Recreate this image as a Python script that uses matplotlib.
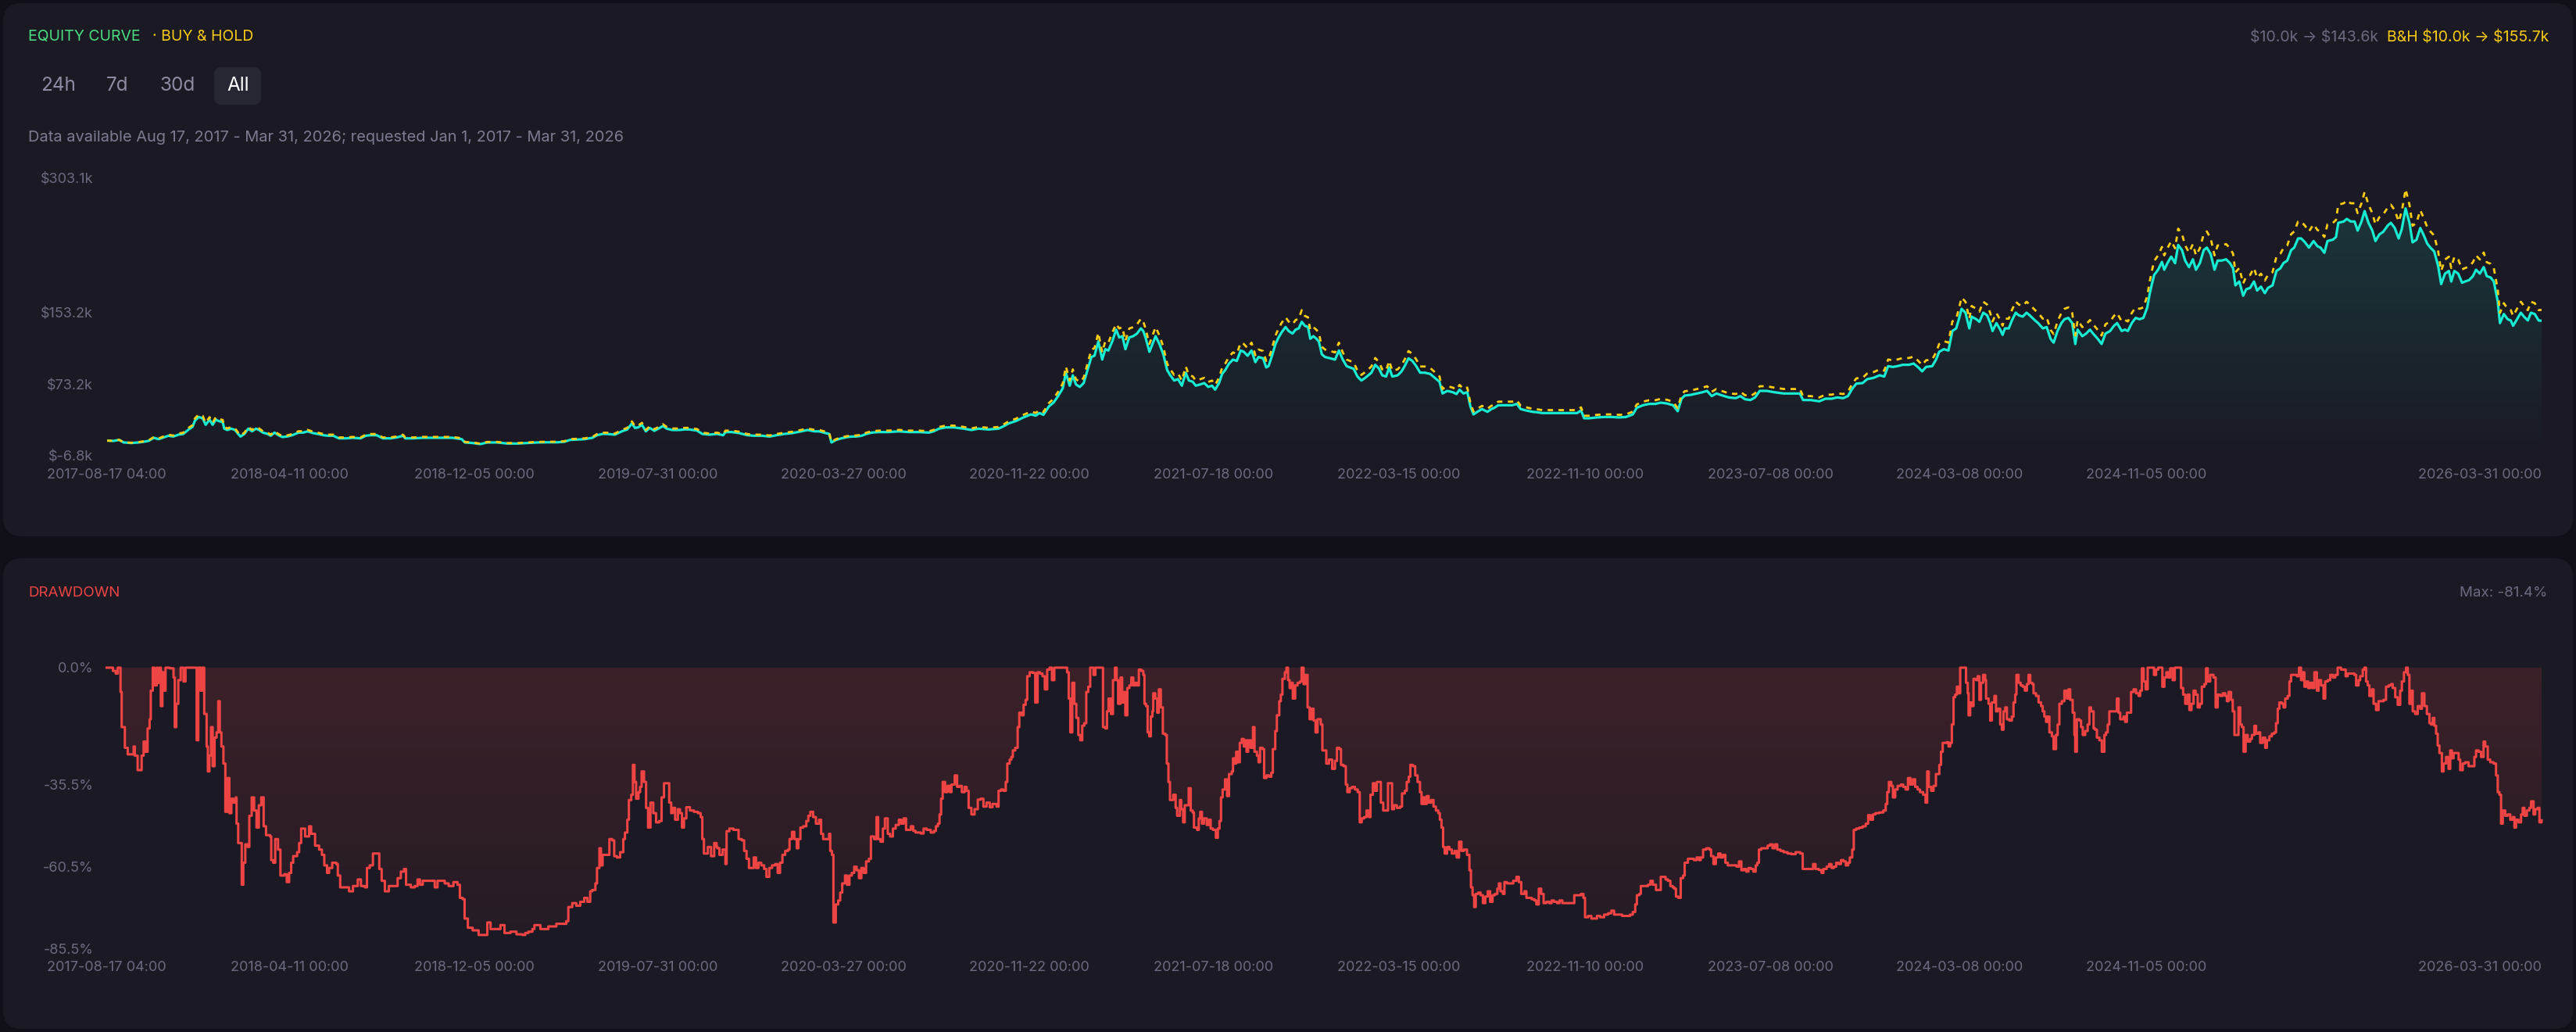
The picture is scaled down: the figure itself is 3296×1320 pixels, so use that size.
import datetime as dt
import numpy as np
import matplotlib
matplotlib.use("Agg")
import matplotlib.pyplot as plt
import matplotlib.dates as mdates
from matplotlib.patches import FancyBboxPatch
from matplotlib.path import Path

plt.rcParams['font.family'] = ['Inter', 'DejaVu Sans']
plt.rcParams['text.parse_math'] = False

# ---------------- data ----------------
START = "2017-08-17 04:00"
END = "2026-03-31 00:00"

# equity curve: days since START, strategy value ($k), buy & hold value ($k)
eq_day = [0, 9, 16, 22, 32, 41, 48, 54, 61, 67,
          74, 80, 86, 93, 99, 106, 111, 114, 119, 124,
          128, 133, 137, 141, 144, 150, 152, 156, 161, 166,
          170, 173, 178, 183, 188, 193, 197, 202, 208, 212,
          217, 222, 227, 233, 240, 248, 254, 260, 267, 273,
          280, 286, 293, 300, 309, 318, 328, 335, 341, 349,
          357, 367, 376, 383, 386, 396, 409, 422, 434, 447,
          459, 463, 473, 483, 492, 505, 518, 531, 544, 557,
          570, 583, 592, 599, 608, 618, 628, 634, 641, 647,
          657, 666, 673, 679, 683, 687, 692, 697, 702, 708,
          715, 719, 724, 731, 740, 747, 753, 763, 770, 779,
          789, 797, 800, 808, 818, 828, 837, 847, 857, 866,
          876, 886, 898, 906, 915, 921, 927, 934, 937, 943,
          950, 956, 963, 969, 976, 982, 989, 998, 1011, 1024,
          1037, 1050, 1063, 1069, 1076, 1085, 1095, 1108, 1118, 1127,
          1140, 1153, 1160, 1166, 1176, 1185, 1195, 1201, 1206, 1211,
          1218, 1224, 1230, 1236, 1240, 1245, 1249, 1253, 1258, 1263,
          1269, 1273, 1277, 1282, 1287, 1291, 1295, 1300, 1305, 1309,
          1313, 1317, 1322, 1327, 1332, 1337, 1340, 1343, 1348, 1352,
          1356, 1361, 1366, 1371, 1375, 1380, 1385, 1390, 1395, 1399,
          1404, 1408, 1414, 1419, 1424, 1429, 1433, 1438, 1442, 1446,
          1451, 1456, 1461, 1466, 1470, 1475, 1480, 1485, 1489, 1495,
          1499, 1502, 1506, 1511, 1515, 1519, 1524, 1528, 1533, 1537,
          1541, 1545, 1549, 1553, 1556, 1560, 1564, 1567, 1571, 1575,
          1582, 1588, 1593, 1598, 1603, 1607, 1612, 1617, 1622, 1627,
          1631, 1635, 1640, 1645, 1649, 1654, 1658, 1662, 1669, 1674,
          1678, 1683, 1688, 1693, 1698, 1704, 1711, 1717, 1723, 1727,
          1733, 1740, 1745, 1749, 1754, 1759, 1763, 1767, 1772, 1778,
          1785, 1790, 1794, 1799, 1804, 1810, 1817, 1823, 1828, 1835,
          1843, 1849, 1856, 1863, 1872, 1881, 1891, 1901, 1906, 1910,
          1917, 1926, 1936, 1946, 1955, 1964, 1973, 1978, 1986, 1994,
          2002, 2009, 2017, 2025, 2031, 2036, 2040, 2048, 2056, 2063,
          2069, 2075, 2081, 2089, 2097, 2106, 2112, 2118, 2125, 2131,
          2137, 2146, 2156, 2168, 2179, 2189, 2193, 2203, 2214, 2222,
          2230, 2237, 2245, 2251, 2257, 2262, 2270, 2276, 2284, 2292,
          2298, 2303, 2309, 2315, 2322, 2330, 2336, 2342, 2347, 2352,
          2360, 2365, 2369, 2375, 2381, 2386, 2391, 2394, 2398, 2403,
          2408, 2411, 2417, 2421, 2426, 2431, 2435, 2438, 2443, 2448,
          2451, 2454, 2459, 2463, 2468, 2472, 2477, 2482, 2486, 2493,
          2497, 2503, 2508, 2513, 2517, 2522, 2527, 2531, 2536, 2541,
          2545, 2548, 2554, 2559, 2564, 2568, 2574, 2579, 2584, 2590,
          2595, 2599, 2605, 2609, 2613, 2618, 2623, 2628, 2633, 2638,
          2641, 2644, 2647, 2652, 2657, 2660, 2664, 2669, 2674, 2678,
          2683, 2687, 2692, 2697, 2701, 2706, 2711, 2715, 2720, 2725,
          2729, 2734, 2740, 2745, 2749, 2752, 2757, 2762, 2766, 2771,
          2776, 2780, 2785, 2790, 2794, 2800, 2805, 2810, 2814, 2819,
          2824, 2828, 2833, 2837, 2842, 2847, 2853, 2858, 2862, 2867,
          2871, 2878, 2882, 2885, 2892, 2896, 2901, 2906, 2910, 2915,
          2919, 2924, 2929, 2933, 2938, 2943, 2949, 2953, 2958, 2963,
          2967, 2972, 2977, 2981, 2986, 2991, 2995, 3000, 3004, 3009,
          3014, 3018, 3023, 3028, 3031, 3035, 3040, 3045, 3049, 3054,
          3059, 3063, 3068, 3073, 3077, 3082, 3086, 3091, 3094, 3099,
          3104, 3108, 3111, 3116, 3121, 3125, 3130, 3134, 3139, 3144, 3147.8]

eq_strategy = [10.0, 9.6, 10.8, 7.9, 7.3, 7.9, 8.7, 9.6, 13.1, 11.6,
               13.7, 15.4, 14.5, 16.6, 17.4, 22.4, 25.3, 32.0, 36.3, 34.9,
               27.6, 33.4, 27.6, 33.4, 32.0, 30.5, 23.3, 21.8, 23.3, 21.8,
               17.4, 14.5, 17.4, 23.3, 20.3, 23.3, 21.8, 18.9, 17.4, 15.4,
               18.9, 16.0, 14.0, 14.5, 16.0, 18.9, 18.9, 20.3, 18.3, 17.4,
               16.0, 15.4, 15.4, 12.5, 12.5, 13.1, 12.5, 15.4, 16.0, 16.0,
               12.5, 12.5, 13.7, 15.4, 12.5, 12.5, 13.1, 13.1, 13.1, 13.1,
               11.6, 7.9, 7.3, 6.1, 7.9, 7.9, 6.7, 6.7, 7.3, 7.9,
               8.1, 8.1, 8.7, 10.8, 11.1, 11.6, 13.1, 16.0, 17.4, 17.4,
               16.6, 20.3, 22.4, 29.1, 24.1, 24.7, 27.6, 20.3, 24.1, 20.9,
               24.1, 26.2, 23.3, 21.8, 21.8, 22.4, 22.4, 21.2, 17.4, 16.6,
               17.4, 16.0, 19.5, 19.5, 18.3, 16.0, 15.4, 15.4, 14.5, 16.0,
               17.4, 18.3, 20.3, 21.8, 20.3, 20.3, 18.9, 17.4, 7.9, 10.8,
               12.5, 13.7, 14.5, 14.5, 15.4, 17.4, 18.9, 19.5, 19.5, 20.3,
               19.5, 19.5, 18.9, 20.3, 23.3, 24.7, 24.7, 23.3, 21.8, 23.3,
               22.4, 23.3, 26.2, 29.1, 32.0, 35.8, 39.2, 37.8, 40.7, 38.7,
               48.0, 52.3, 59.6, 68.3, 85.7, 71.2, 82.8, 72.7, 69.8, 74.1,
               91.6, 103.2, 104.6, 120.6, 100.3, 111.9, 110.4, 120.6, 133.7, 125.0,
               126.4, 111.9, 125.0, 126.4, 129.3, 135.1, 132.2, 125.0, 109.0, 117.7,
               126.4, 117.7, 106.1, 88.6, 82.8, 77.0, 78.5, 71.2, 85.7, 77.0,
               75.6, 71.2, 72.7, 74.1, 69.8, 71.2, 66.8, 74.1, 84.3, 88.6,
               95.9, 100.3, 98.8, 110.4, 109.0, 104.6, 110.4, 97.4, 103.2, 101.7,
               91.6, 93.0, 103.2, 117.7, 125.0, 130.8, 136.6, 132.2, 129.3, 133.7,
               135.1, 142.4, 138.0, 136.6, 123.5, 126.4, 123.5, 120.6, 106.1, 103.2,
               101.7, 100.3, 110.4, 100.3, 93.0, 91.6, 90.1, 81.4, 77.0, 79.9,
               82.8, 85.7, 94.5, 90.1, 82.8, 81.4, 91.6, 81.4, 82.8, 87.2,
               93.0, 101.7, 98.8, 93.0, 85.7, 85.7, 84.3, 79.9, 75.6, 62.5,
               65.4, 64.0, 61.9, 66.8, 62.5, 64.0, 48.0, 39.2, 42.1, 45.1,
               42.1, 45.1, 46.5, 49.4, 49.4, 49.4, 49.4, 50.9, 45.1, 43.6,
               42.1, 41.6, 40.7, 40.7, 40.7, 40.7, 40.7, 40.7, 43.6, 34.9,
               34.9, 35.8, 36.3, 36.3, 35.8, 36.3, 39.2, 46.5, 49.4, 50.9,
               50.9, 52.3, 51.4, 49.4, 42.7, 56.7, 60.2, 61.0, 62.5, 63.9,
               65.4, 59.6, 62.5, 60.2, 58.1, 57.3, 59.6, 56.1, 55.2, 58.1,
               65.4, 65.4, 63.9, 62.5, 62.5, 62.5, 55.2, 55.2, 53.8, 56.7,
               56.7, 58.1, 57.3, 59.6, 68.3, 73.5, 74.1, 78.5, 79.9, 82.8,
               81.4, 93.0, 92.1, 93.0, 94.5, 94.5, 95.9, 91.6, 87.2, 92.1,
               93.0, 100.3, 109.0, 111.9, 110.4, 132.2, 135.1, 143.9, 156.9, 152.6,
               135.1, 148.2, 145.3, 142.4, 152.6, 149.7, 141.0, 132.2, 141.0, 133.7,
               127.9, 135.1, 135.1, 143.9, 152.6, 149.7, 148.2, 152.6, 149.7, 143.9,
               141.0, 135.1, 136.6, 123.5, 119.2, 132.2, 141.0, 145.3, 146.8, 141.0,
               117.7, 133.7, 126.4, 129.3, 133.7, 129.3, 123.5, 117.7, 129.3, 132.2,
               138.0, 141.0, 132.2, 133.7, 132.2, 141.0, 146.8, 145.3, 146.8, 158.4,
               172.9, 184.5, 194.7, 200.5, 209.2, 200.5, 207.8, 215.1, 207.8, 228.1,
               222.3, 210.7, 203.4, 212.1, 200.5, 207.8, 222.3, 225.2, 218.0, 200.5,
               210.7, 210.7, 212.1, 207.8, 202.0, 183.1, 187.4, 171.5, 178.7, 180.2,
               187.4, 177.3, 181.6, 174.4, 180.2, 183.1, 199.1, 202.0, 207.8, 210.7,
               222.3, 225.2, 235.4, 235.4, 231.0, 225.2, 232.5, 226.7, 225.2, 219.4,
               232.5, 234.0, 236.9, 252.8, 254.3, 257.2, 254.3, 254.3, 244.1, 254.3,
               265.9, 252.8, 244.1, 232.5, 239.8, 242.7, 249.9, 252.8, 247.0, 235.4,
               245.6, 268.8, 252.8, 231.0, 233.9, 247.0, 239.8, 229.6, 225.2, 220.9,
               204.9, 184.5, 196.2, 199.1, 187.4, 199.1, 196.2, 186.0, 187.4, 188.9,
               193.3, 200.5, 196.2, 203.4, 193.3, 191.8, 187.4, 165.7, 141.0, 151.1,
               145.3, 143.9, 138.0, 145.3, 152.6, 148.2, 143.9, 152.6, 151.1, 143.9, 143.6]

eq_bh = [10.0, 9.6, 10.9, 8.1, 7.6, 8.3, 9.2, 10.2, 14.0, 12.4,
         14.7, 16.5, 15.6, 17.9, 18.8, 24.2, 27.3, 34.6, 39.2, 37.7,
         29.8, 36.1, 29.8, 36.1, 34.6, 32.9, 25.2, 23.5, 25.2, 23.5,
         18.8, 15.7, 18.8, 25.2, 21.9, 25.2, 23.5, 20.4, 18.8, 16.6,
         20.4, 17.3, 15.1, 15.7, 17.3, 20.4, 20.4, 21.9, 19.8, 18.8,
         17.3, 16.6, 16.6, 13.5, 13.5, 14.1, 13.5, 16.6, 17.3, 17.3,
         13.5, 13.5, 14.8, 16.6, 13.5, 13.5, 14.1, 14.1, 14.1, 14.1,
         12.5, 8.5, 7.9, 6.6, 8.5, 8.5, 7.2, 7.2, 7.9, 8.5,
         8.7, 8.7, 9.4, 11.7, 12.0, 12.5, 14.1, 17.3, 18.8, 18.8,
         17.9, 21.9, 24.2, 31.4, 26.0, 26.7, 29.8, 21.9, 26.0, 22.6,
         26.0, 28.3, 25.2, 23.5, 23.5, 24.2, 24.2, 22.9, 18.8, 17.9,
         18.8, 17.3, 21.1, 21.1, 19.8, 17.3, 16.6, 16.6, 15.7, 17.3,
         18.8, 19.8, 21.9, 23.5, 21.9, 21.9, 20.4, 18.8, 8.5, 11.7,
         13.5, 14.8, 15.7, 15.7, 16.6, 18.8, 20.4, 21.1, 21.1, 21.9,
         21.1, 21.1, 20.4, 21.9, 25.2, 26.7, 26.7, 25.2, 23.5, 25.2,
         24.2, 25.2, 28.3, 31.4, 34.6, 38.7, 42.3, 40.8, 44.0, 41.8,
         51.8, 56.5, 64.4, 73.8, 92.6, 76.9, 89.4, 78.5, 75.4, 80.0,
         98.9, 111.5, 113.0, 130.2, 108.3, 120.9, 119.2, 130.2, 140.0, 135.0,
         136.5, 120.9, 135.0, 136.5, 139.6, 145.9, 142.8, 135.0, 117.7, 127.1,
         136.5, 127.1, 114.6, 95.7, 89.4, 83.2, 84.8, 76.9, 92.6, 83.2,
         81.6, 76.9, 78.5, 80.0, 75.4, 76.9, 72.1, 80.0, 91.0, 95.7,
         103.6, 108.3, 106.7, 119.2, 117.7, 113.0, 119.2, 105.2, 111.5, 109.8,
         98.9, 100.4, 111.5, 127.1, 135.0, 141.3, 147.5, 142.8, 139.6, 144.4,
         145.9, 155.5, 149.0, 147.5, 133.4, 136.5, 133.4, 130.2, 114.6, 111.5,
         109.8, 108.3, 119.2, 108.3, 100.4, 98.9, 97.3, 87.9, 83.2, 86.3,
         89.4, 92.6, 102.1, 97.3, 89.4, 87.9, 98.9, 87.9, 89.4, 94.2,
         100.4, 109.8, 106.7, 100.4, 92.6, 92.6, 91.0, 86.3, 81.6, 67.5,
         70.6, 69.1, 66.9, 72.1, 67.5, 69.1, 51.8, 42.3, 45.5, 48.7,
         45.5, 48.7, 50.2, 53.4, 53.4, 53.4, 53.4, 55.0, 48.7, 47.1,
         45.5, 44.9, 44.0, 44.0, 44.0, 44.0, 44.0, 44.0, 47.1, 37.7,
         37.7, 38.7, 39.2, 39.2, 38.7, 39.2, 42.3, 50.2, 53.4, 55.0,
         55.0, 56.5, 55.5, 53.4, 46.1, 61.2, 65.0, 65.9, 67.5, 69.0,
         70.6, 64.4, 67.5, 65.0, 62.7, 61.9, 64.4, 60.6, 59.6, 62.7,
         70.6, 70.6, 69.0, 67.5, 67.5, 67.5, 59.6, 59.6, 58.1, 61.2,
         61.2, 62.7, 61.9, 64.4, 73.8, 79.4, 80.0, 84.8, 86.3, 89.4,
         87.9, 100.4, 99.5, 100.4, 102.1, 102.1, 103.6, 98.9, 94.2, 99.5,
         100.4, 108.3, 117.7, 120.9, 119.2, 142.8, 145.9, 155.4, 169.5, 164.8,
         145.9, 160.1, 156.9, 153.8, 164.8, 161.7, 152.3, 142.8, 152.3, 144.4,
         138.1, 145.9, 145.9, 155.4, 164.8, 161.7, 160.1, 164.8, 161.7, 155.4,
         152.3, 145.9, 147.5, 133.4, 128.7, 142.8, 152.3, 156.9, 158.5, 152.3,
         127.1, 144.4, 136.5, 139.6, 144.4, 139.6, 133.4, 127.1, 139.6, 142.8,
         149.0, 152.3, 142.8, 144.4, 142.8, 152.3, 158.5, 156.9, 158.5, 171.1,
         186.7, 199.3, 210.3, 216.5, 225.9, 216.5, 224.4, 232.3, 224.4, 246.3,
         240.1, 227.6, 219.7, 229.1, 216.5, 224.4, 240.1, 243.2, 235.4, 216.5,
         227.6, 227.6, 229.1, 224.4, 218.2, 197.7, 202.4, 185.2, 193.0, 194.6,
         202.4, 191.5, 196.1, 188.4, 194.6, 197.7, 215.0, 218.2, 224.4, 227.6,
         240.1, 243.2, 254.2, 254.2, 249.5, 243.2, 251.1, 244.8, 243.2, 237.0,
         251.1, 252.7, 255.9, 273.0, 274.6, 277.8, 274.6, 274.6, 263.6, 274.6,
         287.2, 273.0, 263.6, 251.1, 259.0, 262.1, 269.9, 273.0, 266.8, 254.2,
         265.2, 290.3, 273.0, 249.5, 252.6, 266.8, 259.0, 248.0, 243.2, 238.6,
         221.3, 199.3, 211.9, 215.0, 202.4, 215.0, 211.9, 200.9, 202.4, 204.0,
         208.8, 216.5, 211.9, 219.7, 208.8, 207.1, 202.4, 179.0, 152.3, 163.2,
         156.9, 155.4, 149.0, 156.9, 164.8, 160.1, 155.4, 164.8, 163.2, 155.4, 155.7]

# drawdown (%): days since START and drawdown value, in four stretches
dd_day_a = [0, 6.5, 8.1, 11.7, 14.3, 17.9, 19.4, 23.5, 27.2, 34.9,
            36.4, 40.0, 43.6, 45.2, 47.8, 50.3, 52.9, 55.5, 57.0, 59.6,
            61.7, 64.8, 65.8, 68.4, 70.0, 72.0, 74.1, 76.1, 81.3, 86.4,
            88.0, 90.0, 92.6, 95.7, 99.3, 101.9, 114.8, 116.3, 118.4, 121.5,
            123.5, 126.1, 129.2, 130.8, 132.8, 134.9, 137.0, 139.5, 142.1, 144.2,
            146.2, 148.3, 150.9, 153.4, 156.0, 158.6, 161.2, 163.8, 166.9, 167.9,
            170.0, 173.0, 174.6, 176.6, 179.2, 182.3, 184.4, 187.5, 190.6, 193.7,
            196.7, 199.8, 202.9, 206.0, 211.2, 212.7, 215.3, 217.9, 221.5, 224.6,
            229.7, 232.8, 235.9, 238.5, 241.1, 246.2, 248.8, 251.4, 256.5, 261.7,
            264.3, 269.4, 274.6, 278.2, 281.3, 284.9, 287.5, 291.6, 296.8, 298.8,
            301.9, 308.1, 313.3, 318.4, 324.6, 328.7, 333.9, 336.5, 340.1, 344.2,
            349.3, 352.4, 355.5, 359.6, 364.8, 372.5, 376.1, 380.3, 384.4, 387.0,
            393.2, 398.3, 401.9, 405.0, 408.6, 421.5, 424.1, 427.7, 437.0, 442.1,
            448.3, 453.5, 456.6, 460.2, 462.7, 466.9, 473.1, 480.8, 488.5, 492.1,
            496.3, 509.1, 514.3, 522.0, 529.8, 537.5, 541.1, 545.2, 550.4, 553.0,
            560.7, 571.0, 581.3, 589.0, 594.2, 596.8, 601.9, 607.1, 612.2, 617.4,
            621.5, 625.1, 627.7, 631.8, 633.9, 637.0, 639.0, 641.1, 644.2, 647.3,
            649.9, 653.5, 656.1, 659.7, 663.8, 667.9, 670.0, 673.1, 675.1, 678.2,
            680.3, 682.3, 684.4, 687.5, 689.6, 691.6, 694.7, 697.3, 699.9, 703.0,
            706.6, 710.2, 714.3, 717.4, 720.5, 724.6, 727.2, 729.8, 731.8, 734.9,
            738.5, 741.1, 743.7, 746.3, 749.4, 754.0, 759.2, 764.3, 767.9, 770.0,
            772.1, 777.2, 781.3, 785.4, 788.5]
dd_pct_a = [0.0, 0.0, -1.0, -1.8, 0.0, -7.4, -18.1, -24.4, -26.4, -24.0,
            -26.8, -31.2, -31.2, -26.8, -22.5, -25.6, -18.5, -15.7, -7.0, 0.0,
            -5.4, 0.0, -4.6, 0.0, -11.7, -1.4, -7.0, 0.0, -0.2, -3.0,
            -18.1, -11.0, -3.8, 0.0, -4.2, 0.0, 0.0, -22.1, 0.0, -7.0,
            0.0, -14.1, -24.0, -31.6, -26.8, -18.1, -30.0, -21.3, -19.7, -10.2,
            -19.7, -24.0, -29.2, -43.9, -33.6, -44.3, -39.9, -41.1, -39.5, -47.5,
            -53.4, -53.4, -66.1, -59.4, -53.8, -54.6, -45.1, -39.5, -43.5, -48.7,
            -41.9, -39.5, -48.3, -51.0, -51.4, -58.6, -59.4, -52.2, -55.4, -63.3,
            -62.9, -65.3, -62.5, -59.4, -57.4, -56.2, -53.4, -49.0, -51.4, -48.3,
            -50.6, -54.2, -55.4, -57.0, -60.2, -62.5, -61.0, -59.4, -59.8, -63.3,
            -66.9, -66.9, -68.1, -66.5, -64.5, -66.5, -66.9, -61.0, -60.2, -56.6,
            -56.6, -61.3, -64.9, -68.1, -66.5, -66.5, -64.1, -62.1, -61.3, -66.1,
            -66.9, -66.5, -64.5, -66.1, -64.9, -64.9, -66.9, -64.9, -65.7, -66.5,
            -65.3, -66.1, -70.1, -70.5, -76.4, -79.2, -80.0, -81.4, -81.4, -77.6,
            -79.6, -78.4, -80.8, -80.4, -81.2, -81.4, -80.8, -80.4, -79.6, -78.4,
            -79.6, -78.8, -78.0, -78.0, -77.2, -72.9, -71.7, -72.5, -71.3, -70.1,
            -71.3, -68.1, -67.7, -65.7, -61.0, -55.0, -60.2, -57.0, -57.0, -57.0,
            -52.2, -52.6, -57.4, -57.8, -56.2, -52.2, -50.2, -46.3, -40.3, -38.7,
            -29.6, -34.8, -39.9, -37.9, -36.3, -31.6, -34.8, -42.7, -48.7, -41.1,
            -44.3, -47.1, -46.7, -39.5, -35.2, -35.2, -41.1, -44.3, -42.7, -46.3,
            -43.1, -44.3, -48.7, -45.9, -42.5, -43.5, -43.9, -44.3, -45.5, -52.2,
            -56.6, -54.6, -57.4, -53.4, -54.6]

dd_day_b = [789.5, 792.1, 796.2, 799.9, 801.4, 805.0, 810.2, 813.8, 816.9, 821.0,
            824.1, 827.2, 830.3, 833.4, 836.5, 839.5, 842.6, 846.2, 849.9, 852.9,
            856.6, 860.2, 864.3, 867.4, 870.5, 873.6, 877.2, 880.8, 882.8, 885.9,
            889.0, 892.1, 894.2, 896.8, 900.4, 904.5, 907.1, 909.7, 913.3, 916.9,
            921.0, 923.6, 926.2, 931.3, 933.9, 935.4, 937.5, 939.5, 942.6, 945.7,
            948.3, 950.9, 954.5, 957.1, 960.2, 963.3, 966.4, 969.5, 972.5, 975.6,
            978.7, 981.8, 985.4, 988.0, 992.1, 995.2, 997.3, 1000.4, 1003.5, 1006.1,
            1009.7, 1012.8, 1016.4, 1020.0, 1024.1, 1027.2, 1030.3, 1033.4, 1037.0, 1039.6,
            1042.7, 1045.7, 1052.4, 1056.1, 1060.2, 1065.3, 1069.5, 1072.0, 1074.6, 1076.7,
            1078.7, 1080.8, 1083.9, 1087.0, 1090.1, 1092.1, 1096.3, 1099.4, 1102.5, 1105.5,
            1109.2, 1111.7, 1114.3, 1117.9, 1122.0, 1126.2, 1129.8, 1133.4, 1137.5, 1141.6,
            1145.2, 1150.4, 1153.0, 1156.1, 1159.2, 1162.3, 1164.3, 1167.4, 1169.5, 1171.5,
            1174.6, 1177.7, 1179.8, 1182.9, 1185.4, 1188.0, 1190.1, 1193.2, 1197.3, 1200.4,
            1203.5, 1206.6, 1209.7, 1212.8, 1215.9, 1219.0, 1222.0, 1225.1, 1239.6, 1241.6,
            1243.7, 1245.8, 1248.3, 1250.9, 1253.5, 1256.1, 1258.6, 1261.2, 1263.8, 1266.4,
            1269.0, 1271.5, 1275.7, 1278.2, 1286.0, 1288.0, 1291.1, 1293.2, 1295.2, 1298.3,
            1300.9, 1303.5, 1305.6, 1307.6, 1310.7, 1312.8, 1315.4, 1316.9, 1319.5, 1322.1,
            1324.6, 1327.2, 1329.3, 1331.8, 1334.4, 1337.5, 1340.1, 1341.6, 1343.7, 1345.7,
            1347.8, 1349.9, 1351.9, 1353.0, 1355.6, 1358.1, 1360.2, 1362.8, 1365.4, 1368.5,
            1370.5, 1372.6, 1374.6, 1378.8, 1381.9, 1383.9, 1387.5, 1389.1, 1391.6, 1393.7,
            1396.3, 1398.8, 1401.4, 1404.0, 1405.6, 1409.7, 1411.8, 1413.8, 1415.9, 1418.5,
            1422.1, 1425.2, 1427.2, 1430.3, 1433.9, 1436.5, 1438.6, 1440.6, 1442.7, 1445.8,
            1448.4, 1450.9, 1454.5, 1456.1, 1458.2, 1460.2, 1462.3, 1464.9, 1467.4, 1470.0,
            1471.6, 1473.6, 1475.7, 1478.8, 1481.9, 1483.9, 1487.0, 1489.1, 1491.1, 1494.2,
            1496.3, 1499.4, 1502.5, 1505.6, 1507.6, 1510.7, 1512.8, 1515.9, 1517.9, 1520.0,
            1523.1, 1525.2, 1527.2, 1529.3, 1531.9, 1533.4, 1536.5, 1539.6, 1542.7, 1544.8,
            1547.3, 1549.9, 1552.5, 1555.1, 1557.6, 1560.2, 1562.8, 1565.4, 1569.5, 1571.6,
            1574.7, 1576.7]
dd_pct_b = [-55.0, -57.0, -55.4, -59.8, -49.8, -49.0, -49.4, -49.4, -52.2, -52.6,
            -55.8, -58.2, -61.0, -61.0, -57.8, -61.0, -59.4, -60.2, -61.3, -63.7,
            -61.0, -60.2, -59.8, -62.5, -59.4, -57.0, -55.8, -55.4, -52.2, -50.0,
            -52.2, -55.0, -52.2, -48.7, -48.3, -46.7, -45.1, -43.9, -45.5, -47.5,
            -46.3, -50.6, -52.2, -52.2, -50.6, -55.8, -57.0, -77.6, -72.1, -70.9,
            -68.5, -65.7, -63.3, -66.1, -63.3, -62.5, -60.6, -61.7, -64.1, -61.0,
            -62.5, -59.0, -58.2, -51.4, -52.2, -45.5, -52.2, -53.0, -49.0, -45.9,
            -50.6, -51.4, -49.0, -47.9, -46.3, -47.5, -45.9, -49.4, -49.4, -48.3,
            -49.7, -50.2, -50.5, -49.0, -49.4, -50.2, -49.7, -48.3, -47.5, -44.7,
            -39.9, -34.8, -37.9, -36.0, -37.9, -35.6, -32.8, -36.3, -36.0, -37.9,
            -36.3, -37.5, -42.7, -44.7, -43.1, -40.2, -39.9, -42.3, -41.1, -42.5,
            -41.5, -42.3, -37.5, -37.1, -37.5, -34.8, -29.2, -28.0, -27.2, -25.2,
            -24.4, -18.1, -13.7, -14.5, -11.3, -9.8, -2.6, -1.4, -1.6, -10.6,
            -1.4, -1.8, -2.6, -6.6, -0.6, 0.0, -3.8, 0.0, 0.0, -1.4,
            -9.4, -19.7, -4.6, -11.0, -15.3, -20.5, -22.1, -17.7, -16.9, -7.4,
            -5.8, 0.0, -2.2, 0.0, 0.0, -18.1, -18.5, -13.3, -9.4, -14.1,
            -3.8, 0.0, -3.8, -11.0, -3.0, -10.6, -7.4, -14.5, -6.2, -5.4,
            -3.0, -5.4, -4.6, -5.4, -0.6, -1.0, -2.2, -11.0, -11.7, -19.7,
            -20.9, -14.9, -13.3, -7.8, -9.4, -13.7, -6.6, -12.1, -20.1, -20.5,
            -29.2, -34.8, -40.3, -38.7, -42.7, -45.1, -40.3, -43.1, -47.1, -41.9,
            -41.9, -36.7, -43.5, -44.1, -48.7, -49.4, -45.9, -43.9, -47.5, -45.9,
            -47.9, -46.3, -49.0, -49.4, -51.8, -49.0, -46.7, -39.5, -37.1, -34.0,
            -39.1, -32.4, -31.6, -27.6, -29.2, -25.6, -28.8, -22.9, -21.7, -24.0,
            -22.1, -25.6, -22.1, -24.4, -18.1, -25.6, -26.8, -28.8, -24.4, -24.8,
            -33.6, -32.8, -33.2, -32.0, -24.8, -19.3, -14.5, -10.2, -8.2, -3.4,
            -1.4, 0.0, -3.8, -6.2, -4.6, -9.4, -5.4, -4.6, -4.2, 0.0,
            -5.0, -2.2, -12.1, -15.7, -12.5, -16.1, -19.7, -15.7, -17.3, -25.2,
            -25.2, -29.2]

dd_day_c = [1580.2, 1584.3, 1587.9, 1590.5, 1593.6, 1595.7, 1598.8, 1601.9, 1603.9, 1607.0,
            1610.1, 1613.7, 1617.3, 1619.9, 1622.5, 1625.6, 1628.7, 1631.8, 1633.8, 1636.9,
            1639.5, 1642.1, 1645.2, 1647.2, 1650.3, 1653.4, 1656.5, 1659.1, 1661.7, 1664.2,
            1667.9, 1672.0, 1674.6, 1678.2, 1680.7, 1683.3, 1685.4, 1688.5, 1691.6, 1694.7,
            1697.8, 1699.8, 1701.9, 1703.9, 1706.5, 1709.1, 1712.2, 1715.3, 1718.4, 1721.5,
            1723.5, 1725.6, 1727.7, 1729.7, 1732.8, 1735.9, 1739.0, 1742.6, 1745.2, 1748.3,
            1751.4, 1754.5, 1758.6, 1761.7, 1763.7, 1765.8, 1767.9, 1769.9, 1773.0, 1776.1,
            1779.2, 1782.3, 1785.4, 1788.5, 1791.6, 1794.7, 1797.8, 1799.8, 1801.9, 1805.0,
            1807.0, 1810.1, 1815.3, 1818.4, 1822.5, 1825.6, 1828.7, 1832.8, 1835.4, 1838.0,
            1842.1, 1845.7, 1848.3, 1851.4, 1854.5, 1857.6, 1861.2, 1864.8, 1867.9, 1871.0,
            1875.1, 1878.2, 1881.8, 1892.1, 1897.3, 1902.4, 1906.0, 1909.1, 1911.2, 1915.3,
            1919.4, 1923.5, 1926.6, 1930.8, 1935.9, 1941.1, 1945.2, 1948.8, 1953.9, 1959.1,
            1964.3, 1969.4, 1973.0, 1976.1, 1978.2, 1981.3, 1983.3, 1987.5, 1992.6, 1995.7,
            1998.8, 2002.9, 2006.0, 2009.1, 2012.2, 2015.3, 2018.4, 2021.5, 2024.6, 2026.6,
            2028.7, 2031.8, 2034.9, 2038.0, 2040.0, 2044.2, 2048.3, 2051.9, 2055.5, 2058.6,
            2060.7, 2063.8, 2067.9, 2072.0, 2074.1, 2077.2, 2080.3, 2083.4, 2086.4, 2089.5,
            2092.6, 2095.7, 2104.0, 2107.1, 2110.2, 2113.3, 2116.4, 2119.4, 2122.5, 2125.6,
            2128.7, 2131.8, 2133.9, 2136.0, 2139.0, 2144.2, 2147.3, 2150.4, 2153.5, 2156.6,
            2159.7, 2163.8, 2167.9, 2173.1, 2178.2, 2183.4, 2189.5, 2192.6, 2204.0, 2206.0,
            2209.1, 2213.3, 2216.9, 2219.4, 2223.6, 2226.7, 2229.8, 2232.9, 2235.9, 2239.0,
            2242.1, 2245.2, 2248.3, 2251.4, 2253.5, 2256.6, 2258.6, 2261.7, 2265.8, 2270.0,
            2274.1, 2277.2, 2280.3, 2283.4, 2286.5, 2291.6, 2296.8, 2299.9, 2301.9, 2304.0,
            2307.1, 2309.2, 2312.2, 2315.3, 2319.5, 2322.5, 2325.6, 2328.7, 2331.8, 2334.9,
            2338.0, 2341.1, 2344.2, 2348.3, 2351.4, 2353.5, 2355.5, 2358.6, 2361.7, 2364.8]
dd_pct_c = [-28.0, -30.8, -28.4, -24.4, -24.8, -29.6, -30.0, -35.6, -37.9, -36.7,
            -36.3, -37.1, -37.9, -47.1, -45.9, -45.5, -43.5, -45.5, -38.7, -35.2,
            -37.5, -34.8, -34.8, -41.1, -43.5, -43.5, -35.2, -35.2, -43.1, -41.9,
            -42.7, -42.3, -38.3, -37.5, -34.8, -33.2, -29.6, -30.0, -32.8, -34.8,
            -37.9, -41.5, -39.5, -41.5, -39.1, -41.1, -40.3, -42.3, -43.5, -44.3,
            -46.3, -48.7, -54.6, -56.6, -54.6, -55.4, -56.6, -55.8, -57.8, -53.0,
            -55.8, -55.4, -57.0, -61.7, -66.9, -69.3, -72.9, -68.9, -68.5, -69.3,
            -71.7, -69.7, -68.1, -71.3, -69.3, -68.9, -67.3, -65.7, -68.1, -68.9,
            -65.3, -65.7, -65.7, -64.9, -63.7, -65.3, -68.9, -68.1, -70.1, -70.1,
            -70.5, -70.9, -72.1, -67.3, -68.9, -71.7, -71.3, -71.7, -70.9, -71.3,
            -71.7, -70.9, -71.7, -71.7, -69.3, -69.3, -68.9, -70.1, -76.0, -75.6,
            -76.4, -76.4, -75.6, -76.0, -75.2, -74.8, -74.0, -75.2, -75.2, -75.6,
            -75.6, -75.2, -74.4, -72.1, -69.3, -68.9, -66.5, -66.5, -66.1, -64.9,
            -66.1, -67.7, -67.7, -63.7, -63.7, -64.5, -64.9, -66.5, -66.9, -67.3,
            -69.7, -70.1, -64.1, -63.3, -59.4, -58.2, -58.2, -58.6, -57.8, -58.6,
            -57.8, -55.4, -55.0, -55.4, -57.4, -59.8, -57.8, -56.6, -57.8, -57.0,
            -59.4, -60.2, -60.2, -60.6, -59.0, -61.7, -61.3, -62.1, -61.0, -61.3,
            -62.1, -60.2, -59.4, -55.4, -55.0, -55.0, -54.2, -53.8, -55.0, -53.8,
            -55.4, -55.8, -56.2, -56.6, -56.8, -56.2, -56.6, -61.3, -61.3, -59.8,
            -61.3, -61.6, -62.5, -61.3, -60.6, -59.8, -61.0, -60.6, -59.4, -59.8,
            -58.6, -59.0, -60.2, -59.4, -57.8, -55.4, -49.4, -49.0, -48.7, -48.3,
            -47.5, -44.9, -46.3, -44.7, -44.3, -44.1, -43.5, -41.5, -37.9, -34.8,
            -36.0, -39.5, -37.1, -36.0, -35.6, -36.3, -37.1, -33.6, -35.6, -34.0,
            -36.3, -37.1, -37.9, -38.7, -41.1, -31.6, -36.3, -37.5, -36.0, -32.4]

dd_day_d = [2369.2, 2371.4, 2373.6, 2378.9, 2381.1, 2383.3, 2385.4, 2387.6, 2389.7, 2391.9,
            2394.0, 2396.2, 2401.6, 2403.7, 2405.9, 2407.0, 2409.1, 2411.3, 2413.4, 2416.7,
            2418.8, 2421.0, 2423.1, 2425.8, 2428.5, 2429.6, 2432.8, 2435.0, 2437.1, 2440.4,
            2442.5, 2444.7, 2447.9, 2450.1, 2452.2, 2454.4, 2456.5, 2459.8, 2463.0, 2465.1,
            2467.3, 2468.9, 2471.6, 2474.3, 2477.0, 2479.7, 2482.4, 2484.5, 2486.7, 2489.4,
            2491.0, 2494.2, 2497.5, 2500.7, 2502.8, 2505.0, 2507.2, 2509.3, 2511.5, 2514.7,
            2516.9, 2520.1, 2522.2, 2524.4, 2527.6, 2530.9, 2534.1, 2536.2, 2538.4, 2541.6,
            2543.8, 2544.9, 2547.0, 2550.3, 2552.4, 2554.6, 2557.8, 2561.0, 2563.2, 2565.3,
            2568.6, 2570.7, 2572.9, 2576.1, 2579.3, 2582.6, 2584.7, 2586.9, 2589.0, 2596.6,
            2598.7, 2600.9, 2603.0, 2607.4, 2609.5, 2611.7, 2614.9, 2617.1, 2620.3, 2623.5,
            2626.8, 2628.9, 2631.1, 2633.2, 2635.9, 2638.6, 2644.0, 2646.7, 2649.4, 2652.1,
            2654.8, 2657.5, 2660.2, 2662.8, 2665.5, 2667.7, 2670.9, 2673.6, 2679.0, 2681.7,
            2684.4, 2687.1, 2690.3, 2692.5, 2695.2, 2697.9, 2700.5, 2703.2, 2705.9, 2708.6,
            2711.9, 2714.0, 2716.2, 2719.4, 2723.7, 2726.4, 2729.1, 2732.3, 2735.6, 2738.8,
            2741.0, 2743.1, 2746.3, 2748.5, 2750.7, 2753.9, 2756.0, 2758.2, 2760.3, 2762.5,
            2765.2, 2767.9, 2771.1, 2773.3, 2776.5, 2778.7, 2781.9, 2784.0, 2787.3, 2790.5,
            2792.7, 2795.9, 2799.1, 2802.4, 2804.5, 2806.7, 2808.8, 2812.1, 2814.2, 2816.4,
            2819.6, 2821.8, 2823.9, 2831.5, 2834.2, 2836.8, 2839.0, 2841.2, 2843.3, 2846.0,
            2848.7, 2851.4, 2854.1, 2857.3, 2859.5, 2862.7, 2865.9, 2868.1, 2871.3, 2874.5,
            2877.8, 2881.0, 2884.2, 2888.6, 2891.8, 2894.5, 2897.2, 2902.6, 2905.8, 2908.0,
            2911.2, 2913.3, 2916.6, 2918.7, 2920.9, 2923.0, 2925.2, 2928.4, 2930.6, 2933.8,
            2937.0, 2940.3, 2943.5, 2946.7, 2950.0, 2953.2, 2955.3, 2958.6, 2961.8, 2965.0,
            2967.2, 2969.9, 2972.6, 2974.8, 2976.9, 2979.1, 2981.2, 2984.4, 2987.7, 2990.9,
            2993.1, 2996.3, 2999.5, 3002.8, 3004.9, 3007.1, 3009.2, 3011.4, 3013.5, 3015.7,
            3018.9, 3021.1, 3024.3, 3027.5, 3029.7, 3031.8, 3034.0, 3037.2, 3040.5, 3042.6,
            3045.9, 3049.1, 3053.4, 3057.7, 3060.9, 3063.1, 3066.3, 3069.5, 3072.8, 3074.9,
            3078.2, 3081.4, 3085.7, 3088.9, 3091.1, 3093.3, 3095.4, 3097.6, 3100.8, 3104.0,
            3107.3, 3110.5, 3112.7, 3114.8, 3118.0, 3121.3, 3123.4, 3125.6, 3128.8, 3132.0,
            3134.2, 3137.4, 3139.6, 3142.8, 3145.0, 3147.8]
dd_pct_d = [-29.6, -25.6, -22.9, -22.7, -24.0, -22.9, -17.3, -9.0, -8.2, -5.8,
            -7.8, 0.0, 0.0, -4.6, -7.8, -14.5, -10.6, -11.7, -3.4, -3.8,
            -2.6, -9.8, -4.6, -2.2, -3.8, -9.4, -11.0, -16.1, -10.6, -8.6,
            -13.3, -12.5, -17.3, -18.9, -13.3, -12.1, -15.7, -16.1, -14.9, -10.6,
            -8.2, -2.2, -4.6, -5.4, -5.8, -7.0, -5.0, -2.2, -4.6, -5.0,
            -7.8, -8.6, -10.6, -11.7, -13.3, -14.9, -16.5, -14.9, -19.7, -20.9,
            -24.8, -20.5, -17.3, -11.0, -10.2, -7.0, -9.4, -6.6, -9.8, -13.7,
            -20.5, -25.6, -15.7, -16.1, -18.1, -20.5, -19.3, -17.3, -12.1, -13.3,
            -18.5, -18.9, -21.3, -22.1, -25.6, -20.5, -19.7, -17.3, -13.3, -13.3,
            -9.4, -13.7, -15.7, -14.9, -16.5, -13.7, -13.7, -7.4, -6.6, -7.8,
            -8.6, -7.0, -0.2, -4.2, -6.6, 0.0, 0.0, -2.2, -0.6, 0.0,
            0.0, -5.8, -3.0, -1.4, -3.0, -0.2, -3.8, 0.0, 0.0, -6.2,
            -8.2, -11.0, -8.2, -12.9, -11.0, -7.0, -8.2, -12.1, -11.0, -5.8,
            -5.0, -0.2, -4.2, -2.2, -3.0, -12.1, -8.2, -8.6, -7.8, -8.6,
            -10.2, -7.4, -9.8, -13.3, -20.5, -20.5, -12.1, -17.3, -18.1, -25.6,
            -20.5, -22.5, -21.7, -20.5, -17.7, -20.1, -19.7, -22.9, -21.3, -24.4,
            -22.1, -20.9, -20.1, -19.7, -16.9, -12.5, -10.6, -11.0, -12.1, -9.4,
            -8.6, -4.2, -2.2, -2.6, 0.0, -3.8, -1.4, -5.8, -4.2, -6.2,
            -4.6, -6.2, -1.4, -7.0, -3.8, -5.4, -9.4, -4.2, -3.8, -2.2,
            -3.0, -2.2, 0.0, -0.6, -0.6, -2.6, -1.8, -1.8, -2.2, -5.4,
            -3.8, -2.6, -0.6, 0.0, -4.2, -5.4, -8.6, -6.6, -11.0, -12.9,
            -10.2, -10.2, -9.8, -5.8, -5.4, -5.0, -6.2, -9.0, -11.3, -7.0,
            -4.2, -1.4, 0.0, -2.2, -11.0, -7.0, -13.3, -14.1, -11.7, -12.5,
            -7.8, -11.7, -14.1, -16.9, -17.3, -15.3, -17.7, -20.1, -23.7, -26.0,
            -31.6, -29.2, -27.2, -30.8, -25.2, -27.6, -26.0, -26.0, -28.0, -31.2,
            -29.2, -28.8, -30.0, -30.0, -27.2, -25.2, -25.6, -27.2, -22.5, -24.0,
            -28.0, -28.8, -29.2, -32.8, -37.9, -38.7, -47.5, -43.5, -45.1, -44.7,
            -46.3, -45.5, -48.7, -46.3, -47.1, -44.7, -42.7, -45.1, -43.5, -42.7,
            -40.7, -44.7, -43.1, -42.7, -47.1, -46.5]

eq_ticks = [-6.8, 73.2, 153.2, 303.1]
dd_ticks = [0.0, -35.5, -60.5, -85.5]
x_tick_labels = ["2017-08-17 04:00", "2018-04-11 00:00", "2018-12-05 00:00",
                 "2019-07-31 00:00", "2020-03-27 00:00", "2020-11-22 00:00",
                 "2021-07-18 00:00", "2022-03-15 00:00", "2022-11-10 00:00",
                 "2023-07-08 00:00", "2024-03-08 00:00", "2024-11-05 00:00",
                 "2026-03-31 00:00"]
ranges = ["24h", "7d", "30d", "All"]

# ---------------- style ----------------
OUTER = "#111018"
PANEL = "#1b1a24"
CYAN = "#17ecd3"
YELLOW = "#facc15"
GREEN = "#4ade80"
RED = "#ef4444"
TICK = "#6b6a80"
SUB = "#7c7b91"

W, H = 3296, 1320
fig = plt.figure(figsize=(W / 100, H / 100), dpi=100)
fig.patch.set_facecolor(OUTER)


def rbox(x0, y0, x1, y1, color, r):
    p = FancyBboxPatch((x0 / 100, (H - y1) / 100), (x1 - x0) / 100, (y1 - y0) / 100,
                       boxstyle=f"round,pad=0,rounding_size={r}",
                       transform=fig.dpi_scale_trans, facecolor=color,
                       edgecolor="none", zorder=0)
    fig.add_artist(p)


rbox(4, 4, 3292, 686, PANEL, 0.24)
rbox(4, 714, 3292, 1316, PANEL, 0.24)
rbox(274, 86, 334, 134, "#272633", 0.10)


def ftext(x, y, s, **kw):
    fig.text(x / W, 1 - y / H, s, va="center", **kw)


ftext(36, 47, "EQUITY CURVE", color=GREEN, fontsize=14)
ftext(195, 47, "· BUY & HOLD", color=YELLOW, fontsize=14)
ftext(3043, 48, "$10.0k → $143.6k", color=TICK, fontsize=14, ha="right")
ftext(3261, 48, "B&H $10.0k → $155.7k", color=YELLOW, fontsize=14, ha="right")
for lab, xl in zip(ranges, [52, 136, 204, 290]):
    ftext(xl, 110, lab, color="#ffffff" if lab == "All" else "#8c8ba1", fontsize=17.5)
ftext(36, 176, "Data available Aug 17, 2017 - Mar 31, 2026; requested Jan 1, 2017 - Mar 31, 2026",
      color=SUB, fontsize=14.4)
ftext(36, 759, "DRAWDOWN", color=RED, fontsize=13.5)
ftext(3259, 759, "Max: -81.4%", color=TICK, fontsize=13.5, ha="right")

# ---------------- axes ----------------
t0 = mdates.date2num(dt.datetime.strptime(START, "%Y-%m-%d %H:%M"))
t1 = mdates.date2num(dt.datetime.strptime(END, "%Y-%m-%d %H:%M"))

ax1 = fig.add_axes([136.5 / W, 1 - 582.8 / H, 3115.5 / W, (582.8 - 227.3) / H])
ax2 = fig.add_axes([136.5 / W, 1 - 1213.1 / H, 3115.5 / W, (1213.1 - 854.0) / H])

n = min(len(eq_day), len(eq_strategy), len(eq_bh))
ex = t0 + np.asarray(eq_day[:n], float)
es = np.asarray(eq_strategy[:n], float)
eb = np.asarray(eq_bh[:n], float)

dd_days = dd_day_a + dd_day_b + dd_day_c + dd_day_d
dd_vals = dd_pct_a + dd_pct_b + dd_pct_c + dd_pct_d
m = min(len(dd_days), len(dd_vals))
dx = t0 + np.asarray(dd_days[:m], float)
dv = np.asarray(dd_vals[:m], float)


def grad_image(ax, rgb, a_top, a_bot, ytop, ybot, verts):
    g = np.linspace(a_top, a_bot, 256)
    img = np.zeros((256, 1, 4))
    img[..., 0], img[..., 1], img[..., 2] = rgb
    img[:, 0, 3] = g
    im = ax.imshow(img, extent=[t0, t1, ybot, ytop], origin="upper",
                   aspect="auto", zorder=1, interpolation="bilinear")
    im.set_clip_path(Path(verts), transform=ax.transData)


# equity
ylo, yhi = eq_ticks[0], eq_ticks[-1]
verts = [(ex[0], ylo)] + list(zip(ex, es)) + [(ex[-1], ylo), (ex[0], ylo)]
grad_image(ax1, (0.09, 0.93, 0.83), 0.15, 0.0, yhi, ylo, verts)
ax1.plot(ex, es, color=CYAN, lw=2.3, zorder=3, solid_joinstyle="round")
ax1.plot(ex, eb, color=YELLOW, lw=2.0, ls=(0, (2.5, 2.5)), zorder=4)
ax1.set_ylim(ylo, yhi)
ax1.set_yticks(eq_ticks)
ax1.set_yticklabels([f"${v:.1f}k" for v in eq_ticks])

# drawdown
sx = np.repeat(dx, 2)[1:]
sy = np.repeat(dv, 2)[:-1]
verts = [(sx[0], 0.0)] + list(zip(sx, sy)) + [(sx[-1], 0.0), (sx[0], 0.0)]
grad_image(ax2, (0.94, 0.27, 0.27), 0.16, 0.04, 0.0, dd_ticks[-1], verts)
ax2.plot(dx, dv, drawstyle="steps-post", color=RED, lw=2.2, zorder=3, clip_on=False)
ax2.set_ylim(dd_ticks[-1], 0.0)
ax2.set_yticks(dd_ticks)
ax2.set_yticklabels([f"{v:.1f}%" for v in dd_ticks])

xt = [mdates.date2num(dt.datetime.strptime(s, "%Y-%m-%d %H:%M")) for s in x_tick_labels]
for ax in (ax1, ax2):
    ax.set_facecolor("none")
    for sp in ax.spines.values():
        sp.set_visible(False)
    ax.set_xlim(t0, t1)
    ax.set_xticks(xt)
    ax.set_xticklabels(x_tick_labels)
    ax.tick_params(axis="both", length=0, colors=TICK, labelsize=13)
    ax.tick_params(axis="y", pad=12.5)
    ax.tick_params(axis="x", pad=11.5)
    ax.get_xticklabels()[-1].set_ha("right")
    ax.grid(False)

fig.savefig("out.png", dpi=100, facecolor=OUTER)
